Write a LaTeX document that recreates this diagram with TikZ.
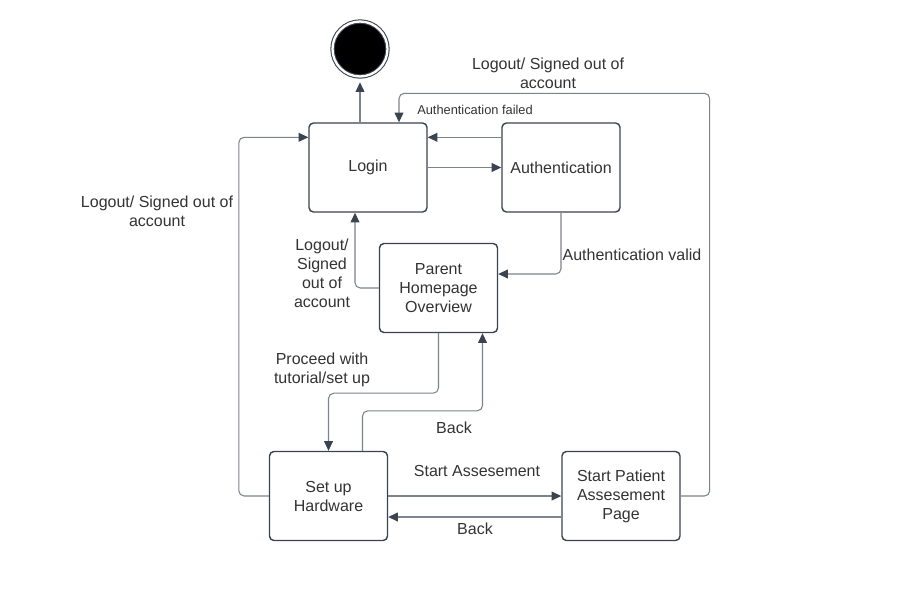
\documentclass[tikz,border=0pt]{standalone}
\usepackage{fontspec}
\setmainfont{Liberation Sans}
\usetikzlibrary{arrows.meta,calc,positioning}
\definecolor{edge}{HTML}{3B4350}
\definecolor{wire}{HTML}{7D838B}
\definecolor{ink}{HTML}{333333}
\tikzset{pin/.style={draw=wire, line width=0.6pt, rounded corners=3pt,
    -{Triangle[length=5.5pt,width=5pt,color=edge]}},
  state/.style={draw=edge, line width=0.8pt, rounded corners=2.5pt, align=center,
    text=ink, minimum width=2.36cm, minimum height=1.78cm},
  lbl/.style={text=ink, align=center}}

\begin{document}
\begin{tikzpicture}[x=0.02cm, y=-0.02cm, font=\fontsize{9.1}{10.8}\selectfont]
  \useasboundingbox[fill=white] (0,0) rectangle (898,605);
  % states
  \node[circle, fill=black, draw=edge, double=white, double distance=1.3pt,
    line width=0.6pt, minimum size=1.1cm] (final) at (360,49) {};
  \node[state] (login) at (368,167.5) {Login};
  \node[state] (auth) at (561,167.5) {Authentication};
  \node[state] (parent) at (438.5,288) {Parent\\Homepage\\Overview};
  \node[state] (setup) at (328.5,496) {Set up\\Hardware};
  \node[state] (patient) at (621,496) {Start Patient\\Assesement\\Page};
  % login / authentication
  \draw[pin, shorten >=3pt] (final.south |- login.north) -- (final.south);
  \draw[pin] ($(auth.north west)+(0,15)$) -- ($(login.north east)+(0,15)$);
  \node[lbl, font=\fontsize{7.3}{9}\selectfont] at (475,110) {Authentication failed};
  \draw[pin] (login.east) -- (auth.west);
  \draw[pin] (auth.south) |- ($(parent.east)+(0,-14)$);
  \node[lbl] at (632,255) {Authentication valid};
  \draw[pin] (parent.west) -| ($(login.south)+(-13,0)$);
  \node[lbl] at (322,273) {Logout/\\Signed\\out of\\account};
  % homepage / hardware
  \draw[pin] (parent.south) -- ++(0,60) -| (setup.north);
  \node[lbl] at (322,370) {Proceed with\\tutorial/set up};
  \draw[pin] ($(setup.north)+(34,0)$) -- ++(0,-40) -| ($(parent.south)+(44,0)$);
  \node[lbl] at (454,428) {Back};
  \draw[pin] (setup.west) -- ++(-30,0) |- ($(login.north west)+(0,15)$);
  \node[lbl] at (157,211) {Logout/ Signed out of\\account};
  % assessment
  \draw[pin] (setup.east) -- (patient.west);
  \node[lbl] at (477,471) {Start Assesement};
  \draw[pin] ($(patient.west)+(0,21)$) -- ($(setup.east)+(0,21)$);
  \node[lbl] at (475,529) {Back};
  \draw[pin] (patient.east) -- ++(29,0) |- ($(login.north)+(31,-29)$) -- ($(login.north)+(31,0)$);
  \node[lbl] at (548,73) {Logout/ Signed out of\\account};
\end{tikzpicture}
\end{document}
